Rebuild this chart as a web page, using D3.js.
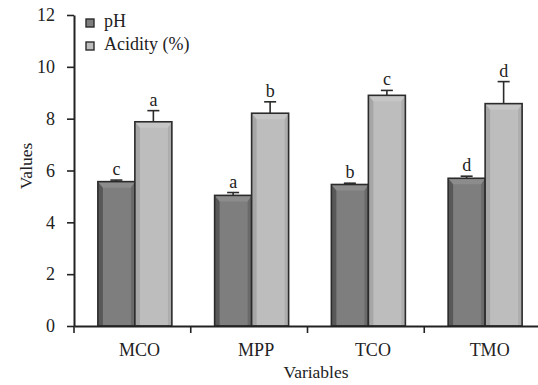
<!DOCTYPE html>
<html><head><meta charset="utf-8">
<script src="https://cdn.jsdelivr.net/npm/d3@7"></script>
<style>body{margin:0;background:#fff}svg{display:block}</style>
</head><body>
<script>
const categories = ["MCO","MPP","TCO","TMO"];
const seriesNames = ["pH","Acidity (%)"];
const phValues = [5.57,5.04,5.46,5.70];
const phErrors = [0.06,0.11,0.05,0.08];
const phLetters = ["c","a","b","d"];
const acidValues = [7.88,8.21,8.90,8.58];
const acidErrors = [0.43,0.44,0.19,0.85];
const acidLetters = ["a","b","c","d"];
const yTicks = [0,2,4,6,8,10,12];

const W=538,H=385;
const svg=d3.select("body").append("svg").attr("width",W).attr("height",H);
const font="'Liberation Serif','Times New Roman',serif";
const x=d3.scaleBand().domain(categories).range([74,541]);
const y=d3.scaleLinear().domain([0,12]).range([326,15]);
const inner=d3.scaleBand().domain([0,1]).range([0,74]);
const styles=[
  {main:"#7e7e7e",left:"#585858",right:"#6a6a6a",top:"#8c8c8c"},
  {main:"#bdbdbd",left:"#a6a6a6",right:"#adadad",top:"#c6c6c6"}
];
const series=[
  {vals:phValues,errs:phErrors,letters:phLetters},
  {vals:acidValues,errs:acidErrors,letters:acidLetters}
];
const g=svg.append("g");
series.forEach((s,si)=>{
  categories.forEach((c,ci)=>{
    const st=styles[si];
    const x0=x(c)+x.bandwidth()/2+2.5-37+inner(si);
    const w=inner.bandwidth();
    const y0=y(s.vals[ci]), y1=y(0);
    g.append("rect").attr("x",x0).attr("y",y0).attr("width",w).attr("height",y1-y0).attr("fill",st.main);
    g.append("rect").attr("x",x0).attr("y",y0).attr("width",5).attr("height",y1-y0).attr("fill",st.left);
    g.append("rect").attr("x",x0+w-4).attr("y",y0).attr("width",4).attr("height",y1-y0).attr("fill",st.right);
    g.append("path").attr("d",`M${x0},${y0}L${x0+w},${y0}L${x0+w-4},${y0+6}L${x0+5},${y0+6}Z`).attr("fill",st.top);
    g.append("rect").attr("x",x0).attr("y",y0).attr("width",w).attr("height",y1-y0)
      .attr("fill","none").attr("stroke","#2b2b2b").attr("stroke-width",1.6);
    const cx=x0+w/2, ye=y(s.vals[ci]+s.errs[ci]);
    g.append("line").attr("x1",cx).attr("x2",cx).attr("y1",y0).attr("y2",ye).attr("stroke","#2b2b2b").attr("stroke-width",1.6);
    g.append("line").attr("x1",cx-6).attr("x2",cx+6).attr("y1",ye).attr("y2",ye).attr("stroke","#2b2b2b").attr("stroke-width",1.6);
    g.append("text").attr("x",cx).attr("y",ye-5).attr("text-anchor","middle")
      .attr("font-family",font).attr("font-size",18).attr("fill","#222").text(s.letters[ci]);
  });
});
// y axis
const ya=svg.append("g").attr("transform","translate(74,0)")
  .call(d3.axisLeft(y).tickValues(yTicks).tickSize(7).tickPadding(12).tickSizeOuter(0));
ya.select(".domain").attr("stroke","#222").attr("stroke-width",2);
ya.selectAll(".tick line").attr("stroke","#222").attr("stroke-width",1.6);
ya.selectAll("text").attr("font-family",font).attr("font-size",18).attr("fill","#222");
// x axis
const xa=svg.append("g").attr("transform","translate(0,326)")
  .call(d3.axisBottom(x).tickSize(0).tickPadding(17).tickSizeOuter(0));
xa.select(".domain").attr("stroke","#222").attr("stroke-width",2);
xa.selectAll("text").attr("font-family",font).attr("font-size",18).attr("fill","#222").attr("dx",7);
const bounds=categories.map(c=>x(c));
xa.selectAll(".bt").data(bounds).enter().append("line").attr("class","bt")
  .attr("x1",d=>d).attr("x2",d=>d).attr("y1",0).attr("y2",7).attr("stroke","#222").attr("stroke-width",1.6);
// axis titles
svg.append("text").attr("x",316).attr("y",378).attr("text-anchor","middle")
  .attr("font-family",font).attr("font-size",17.5).attr("fill","#222").text("Variables");
svg.append("text").attr("transform","translate(32,166) rotate(-90)").attr("text-anchor","middle")
  .attr("font-family",font).attr("font-size",17.5).attr("fill","#222").text("Values");
// legend
seriesNames.forEach((n,i)=>{
  const ly=19+i*23;
  svg.append("rect").attr("x",86).attr("y",ly).attr("width",8).attr("height",8)
    .attr("fill",styles[i].main).attr("stroke","#2b2b2b").attr("stroke-width",1.4);
  svg.append("text").attr("x",104).attr("y",ly+8).attr("font-family",font).attr("font-size",18)
    .attr("fill","#222").text(n);
});
</script>
</body></html>
